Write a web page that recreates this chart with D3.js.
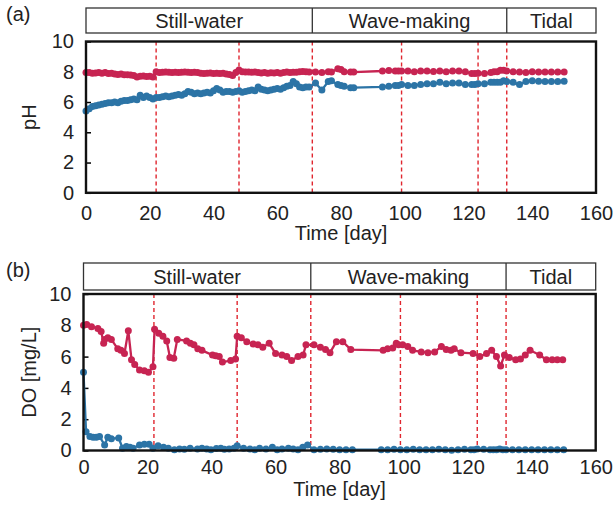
<!DOCTYPE html>
<html>
<head>
<meta charset="utf-8">
<script src="https://cdn.jsdelivr.net/npm/d3@7"></script>
<style>
  html, body { margin: 0; padding: 0; background: #fff; }
  svg { display: block; font-family: "Liberation Sans", Arial, sans-serif; }
</style>
</head>
<body>
<svg id="chart" width="616" height="508"></svg>
<script>
// ---------------- DATA ----------------
const phases = ["Still-water", "Wave-making", "Tidal"];
const phaseBounds = [0, 71, 132, 160];
const dashedDays = [22, 48, 71, 99, 123, 132];
const xTicks = [0, 20, 40, 60, 80, 100, 120, 140, 160];
const yTicks = [0, 2, 4, 6, 8, 10];

const phDays = [0,1,2,3,4,5,6,7,8,9,10,11,12,13,14,15,16,17,18,19,20,21,22,23,24,25,26,27,28,29,30,31,32,33,34,35,36,37,38,39,40,41,42,43,44,45,46,47,48,49,50,51,52,53,54,55,56,57,58,59,60,61,62,63,64,65,66,67,68,69,70,72,74,76,77,79,80,81,83,84,93,95,97,98,99,101,103,105,107,109,111,113,115,117,119,121,122,123,125,127,128,129,130,131,132,134,136,138,140,142,144,146,148,150];
const phRed = [7.95,7.95,7.9,7.92,7.95,7.9,7.95,7.88,7.9,7.85,7.82,7.85,7.8,7.8,7.78,7.75,7.65,7.7,7.72,7.68,7.7,7.65,8.0,7.95,7.97,7.98,7.96,7.95,7.97,7.95,7.96,7.98,7.96,7.95,7.97,7.95,7.9,7.88,7.9,7.92,7.88,7.9,7.88,7.9,7.85,7.82,7.75,7.95,8.12,8.0,7.98,7.98,7.97,7.98,7.95,7.92,7.95,7.9,7.93,7.92,7.95,7.9,7.95,7.98,7.95,7.97,7.96,8.0,8.02,8.0,7.98,7.98,7.95,8.0,7.98,8.2,8.15,8.0,7.98,7.98,8.05,8.08,8.05,8.05,8.05,8.05,8.0,8.05,8.05,8.02,8.05,8.0,8.05,8.05,8.0,7.88,7.88,7.9,7.88,7.95,8.0,8.0,8.1,8.1,8.05,8.0,7.98,7.95,8.0,7.98,7.98,7.98,7.98,7.98];
const phBlue = [5.4,5.55,5.7,5.75,5.8,5.85,5.9,5.95,5.95,6.0,5.95,6.05,6.1,6.1,6.15,6.2,6.15,6.45,6.3,6.4,6.3,6.2,6.3,6.3,6.35,6.4,6.35,6.4,6.45,6.5,6.45,6.55,6.7,6.65,6.55,6.6,6.55,6.6,6.65,6.6,6.75,6.9,6.8,6.65,6.7,6.7,6.65,6.7,6.75,6.65,6.7,6.75,6.8,6.75,7.0,6.85,6.8,6.75,6.8,6.85,6.9,6.85,6.95,7.05,7.1,7.35,7.2,7.0,6.95,7.0,7.0,7.25,6.8,7.35,7.4,7.15,7.1,7.05,6.95,6.95,7.0,7.05,7.1,7.1,7.15,7.1,7.1,7.15,7.2,7.2,7.3,7.2,7.25,7.25,7.15,7.15,7.15,7.2,7.2,7.3,7.3,7.3,7.3,7.4,7.35,7.3,7.15,7.35,7.4,7.38,7.35,7.35,7.35,7.38];

const doRedDays = [0,1,2.5,4.5,5.5,6.3,6.6,7.6,8.7,10.7,11.7,12.8,14,15,16,17.5,19,20.3,21.7,22.2,23.5,24.8,26,27,28.2,29.3,32.2,33.4,34.5,35.7,37,40.3,41.3,42.4,43.4,46,47.5,48,49.3,51,53,54.5,56,58,60,62,63.5,65,67,68.6,69.5,72,74,75.6,77,79,81,83.5,93.6,95,96.6,97.7,98.4,99.7,101.3,102.8,105.5,107.6,109.7,111.8,113.3,114.8,115.8,117.9,121.7,123.8,125.9,127.5,129,130.3,131.5,133,135,136.5,138,139.5,142.5,144.6,146.4,148,149.7];
const doRed = [8.0,8.05,7.9,7.8,7.6,6.85,7.1,7.2,7.1,6.5,6.4,6.2,7.65,5.8,5.5,5.15,5.1,5.0,5.35,7.75,7.5,7.3,7.0,5.95,5.9,7.1,7.0,6.85,6.75,6.5,6.4,6.1,6.05,6.0,5.65,5.75,5.85,7.3,7.2,6.95,6.8,6.75,6.6,6.85,6.2,6.1,6.0,5.75,6.0,6.1,6.75,6.75,6.6,6.45,6.25,6.95,6.95,6.45,6.4,6.5,6.55,6.85,6.75,6.75,6.65,6.4,6.3,6.25,6.3,6.65,6.45,6.4,6.5,6.25,6.2,6.0,6.2,6.4,6.0,5.4,6.1,5.95,5.8,5.85,6.1,6.4,6.1,5.8,5.8,5.8,5.8];

const doBlueDays = [0,0.8,2,3,4,5,6.6,7.6,8.7,11,12.2,13.4,14.5,15.5,17.5,19,20.5,21.7,23.3,25,26.5,28.4,30,31.5,33.3,35.6,37,38.5,39.8,41.5,42.9,44,45.5,47,48,50,52,53.5,55,57,59,60.5,62,64,65.5,67,68.5,70,72,74,76,78,80,82,84,93,95,97,99,101,103,105,107,109,111,113,115,117,119,121,122,123,125,127,128,129,130,131,132,134,136,138,140,142,144,146,148,150];
const doBlue = [5.0,1.2,0.9,0.85,0.85,0.9,0.35,0.85,0.75,0.8,0.15,0.25,0.2,0.15,0.35,0.4,0.4,0.15,0.3,0.2,0.15,0.05,0.1,0.08,0.15,0.1,0.15,0.1,0.05,0.12,0.15,0.08,0.1,0.15,0.3,0.15,0.1,0.05,0.15,0.1,0.2,0.05,0.1,0.15,0.1,0.05,0.2,0.35,0.05,0.08,0.1,0.08,0.05,0.05,0.05,0.05,0.05,0.08,0.05,0.05,0.08,0.05,0.05,0.05,0.08,0.05,0.02,0.05,0.08,0.05,0.05,0.1,0.08,0.05,0.05,0.05,0.1,0.05,0.05,0.05,0.05,0.05,0.05,0.05,0.05,0.05,0.05,0.05];

// ---------------- STYLE ----------------
const RED = "#C72452";
const BLUE = "#2C74A6";
const DASH = "#E0262F";
const FONT = 20;

const svg = d3.select("#chart");

const panels = [
  { tag: "(a)", title: "pH", left: 86, right: 596, top: 41.5, bottom: 192.8, headTop: 8, headBottom: 33,
    series: [ {days: phDays, vals: phRed, color: RED}, {days: phDays, vals: phBlue, color: BLUE} ],
    tickY: 220, xTitleY: 240, tagY: 21 },
  { tag: "(b)", title: "DO [mg/L]", left: 83.5, right: 595.7, top: 294, bottom: 450.5, headTop: 263, headBottom: 290,
    series: [ {days: doRedDays, vals: doRed, color: RED}, {days: doBlueDays, vals: doBlue, color: BLUE} ],
    tickY: 474, xTitleY: 496, tagY: 277 }
];

panels.forEach(p => {
  const x = d3.scaleLinear().domain([0, 160]).range([p.left, p.right]);
  const y = d3.scaleLinear().domain([0, 10]).range([p.bottom, p.top]);
  const g = svg.append("g");

  // panel tag
  g.append("text").attr("x", 6).attr("y", p.tagY).attr("font-size", FONT).attr("fill", "#222").text(p.tag);

  // header box
  g.append("rect").attr("x", x(0)).attr("y", p.headTop).attr("width", x(160) - x(0)).attr("height", p.headBottom - p.headTop)
    .attr("fill", "none").attr("stroke", "#333").attr("stroke-width", 1.3);
  phaseBounds.slice(1, -1).forEach(d => {
    g.append("line").attr("x1", x(d)).attr("x2", x(d)).attr("y1", p.headTop).attr("y2", p.headBottom)
      .attr("stroke", "#333").attr("stroke-width", 1.3);
  });
  phases.forEach((name, i) => {
    g.append("text").attr("x", (x(phaseBounds[i]) + x(phaseBounds[i + 1])) / 2)
      .attr("y", (p.headTop + p.headBottom) / 2).attr("dy", "0.36em")
      .attr("text-anchor", "middle").attr("font-size", FONT).attr("fill", "#222").text(name);
  });

  // y axis (inward ticks)
  const yAxis = d3.axisLeft(y).tickValues(yTicks).tickSize(-5).tickPadding(12);
  const ya = g.append("g").attr("transform", `translate(${p.left},0)`).call(yAxis);
  ya.select(".domain").remove();
  ya.selectAll("line").attr("stroke", "#000").attr("stroke-width", 1.5);
  ya.selectAll("text").attr("font-size", FONT).attr("fill", "#222").attr("font-family", "Liberation Sans, Arial, sans-serif");

  // x axis (no ticks)
  const xAxis = d3.axisBottom(x).tickValues(xTicks).tickSize(0).tickPadding(0);
  const xa = g.append("g").attr("transform", `translate(0,${p.tickY})`).call(xAxis);
  xa.select(".domain").remove();
  xa.selectAll("text").attr("font-size", FONT).attr("fill", "#222").attr("dy", "0").attr("y", 0)
    .attr("font-family", "Liberation Sans, Arial, sans-serif");

  // axis titles
  g.append("text").attr("x", (p.left + p.right) / 2).attr("y", p.xTitleY).attr("text-anchor", "middle")
    .attr("font-size", FONT).attr("fill", "#222").text("Time [day]");
  g.append("text").attr("transform", `translate(36,${(p.top + p.bottom) / 2}) rotate(-90)`)
    .attr("text-anchor", "middle").attr("font-size", FONT).attr("fill", "#222").text(p.title);

  // dashed phase lines
  dashedDays.forEach(d => {
    g.append("line").attr("x1", x(d)).attr("x2", x(d)).attr("y1", p.top).attr("y2", p.bottom)
      .attr("stroke", DASH).attr("stroke-width", 1.4).attr("stroke-dasharray", "4,3");
  });

  // series
  p.series.forEach(s => {
    const pts = s.days.map((d, i) => [d, s.vals[i]]);
    const line = d3.line().x(d => x(d[0])).y(d => y(d[1]));
    g.append("path").datum(pts).attr("d", line).attr("fill", "none").attr("stroke", s.color).attr("stroke-width", 2.3);
    g.selectAll(null).data(pts).enter().append("circle")
      .attr("cx", d => x(d[0])).attr("cy", d => y(d[1])).attr("r", 3.5).attr("fill", s.color);
  });

  // plot frame
  g.append("rect").attr("x", p.left).attr("y", p.top).attr("width", p.right - p.left).attr("height", p.bottom - p.top)
    .attr("fill", "none").attr("stroke", "#111").attr("stroke-width", 2.4);
});
</script>
</body>
</html>
